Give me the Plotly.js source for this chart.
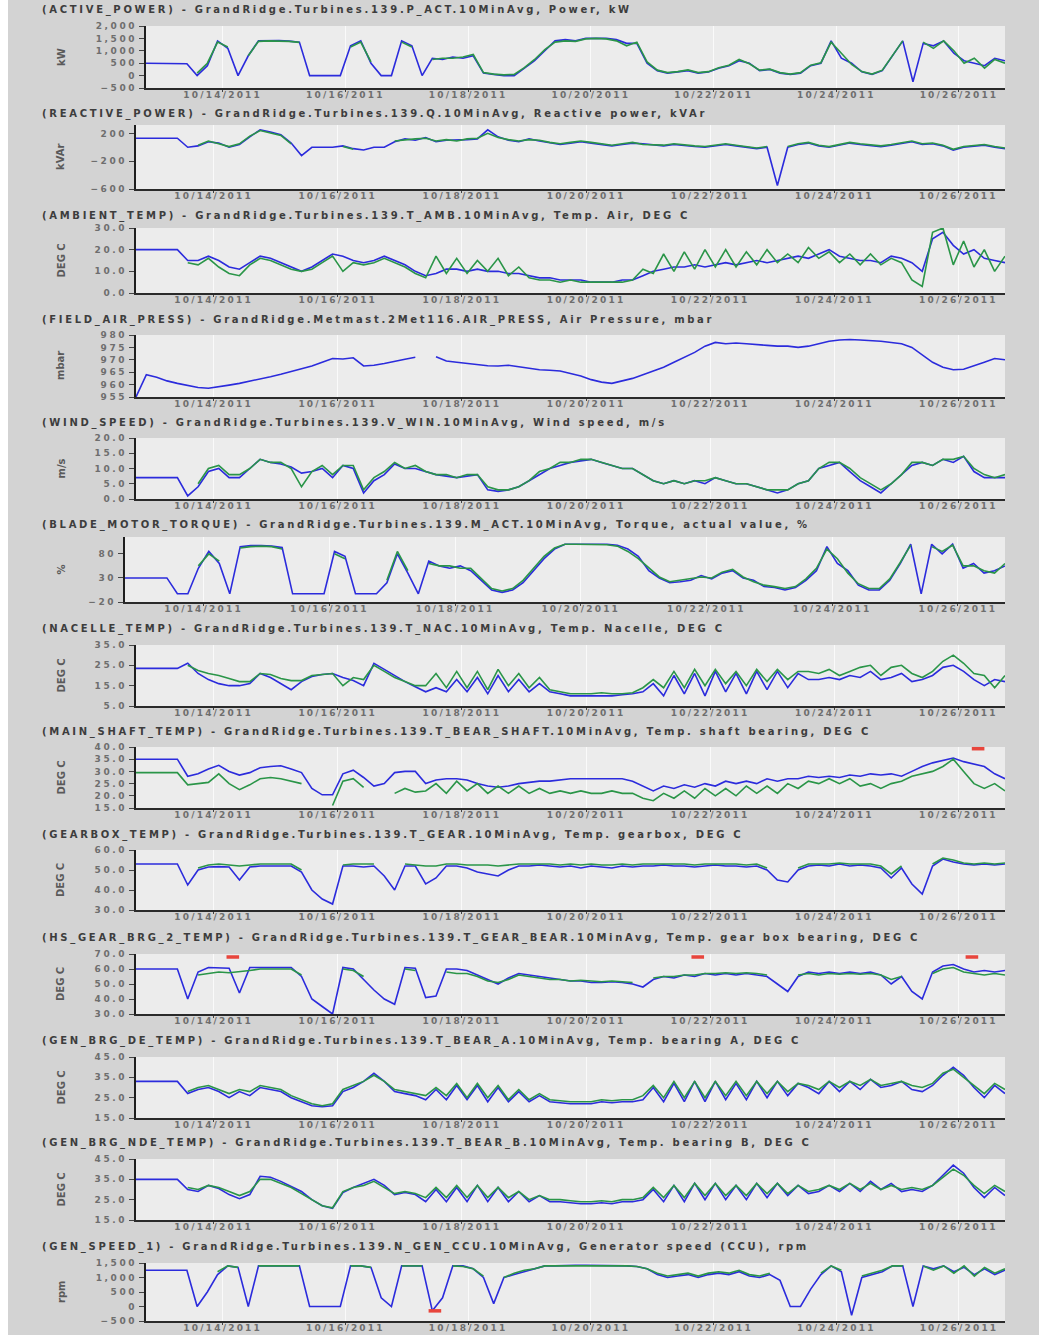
<!DOCTYPE html>
<html><head><meta charset="utf-8">
<script src="https://cdn.plot.ly/plotly-3.0.1.min.js"></script>
<style>
html,body{margin:0;padding:0;background:#fff;}
#chart{width:1039px;height:1335px;}
.xaxislayer-above text{letter-spacing:2.2px;}
.yaxislayer-above text{letter-spacing:2.6px;}
</style>
</head><body><div id="chart"></div>
<script>
const n = null;
// 10-minute averages sampled every 4 hours, first sample 10/12/2011 18:00
const t0 = Date.UTC(2011, 9, 12, 18, 0);
const times = Array.from({length: 85}, (_, k) => new Date(t0 + k * 4 * 3600 * 1000).toISOString().slice(0, 16).replace('T', ' '));

const titles = [
  '(ACTIVE_POWER) - GrandRidge.Turbines.139.P_ACT.10MinAvg, Power, kW',
  '(REACTIVE_POWER) - GrandRidge.Turbines.139.Q.10MinAvg, Reactive power, kVAr',
  '(AMBIENT_TEMP) - GrandRidge.Turbines.139.T_AMB.10MinAvg, Temp. Air, DEG C',
  '(FIELD_AIR_PRESS) - GrandRidge.Metmast.2Met116.AIR_PRESS, Air Pressure, mbar',
  '(WIND_SPEED) - GrandRidge.Turbines.139.V_WIN.10MinAvg, Wind speed, m/s',
  '(BLADE_MOTOR_TORQUE) - GrandRidge.Turbines.139.M_ACT.10MinAvg, Torque, actual value, %',
  '(NACELLE_TEMP) - GrandRidge.Turbines.139.T_NAC.10MinAvg, Temp. Nacelle, DEG C',
  '(MAIN_SHAFT_TEMP) - GrandRidge.Turbines.139.T_BEAR_SHAFT.10MinAvg, Temp. shaft bearing, DEG C',
  '(GEARBOX_TEMP) - GrandRidge.Turbines.139.T_GEAR.10MinAvg, Temp. gearbox, DEG C',
  '(HS_GEAR_BRG_2_TEMP) - GrandRidge.Turbines.139.T_GEAR_BEAR.10MinAvg, Temp. gear box bearing, DEG C',
  '(GEN_BRG_DE_TEMP) - GrandRidge.Turbines.139.T_BEAR_A.10MinAvg, Temp. bearing A, DEG C',
  '(GEN_BRG_NDE_TEMP) - GrandRidge.Turbines.139.T_BEAR_B.10MinAvg, Temp. bearing B, DEG C',
  '(GEN_SPEED_1) - GrandRidge.Turbines.139.N_GEN_CCU.10MinAvg, Generator speed (CCU), rpm'
];
const units = ['kW','kVAr','DEG C','mbar','m/s','%','DEG C','DEG C','DEG C','DEG C','DEG C','DEG C','rpm'];

const activePowerBlue = [500,500,500,500,480,0,400,1400,1100,0,800,1400,1420,1410,1390,1350,0,0,0,0,1200,1400,500,0,0,1400,1200,0,700,650,750,700,800,100,50,0,0,300,600,1000,1400,1450,1400,1500,1500,1500,1450,1300,1300,500,200,100,150,200,100,150,300,400,600,500,200,250,100,50,100,400,500,1400,700,500,150,50,200,800,1400,-250,1300,1200,1400,900,600,500,400,700,600];
const activePowerGreen = [n,n,n,n,n,100,500,1350,1150,n,800,1380,1400,1400,1380,1340,n,n,n,n,1150,1350,550,n,n,1350,1150,n,650,700,700,750,850,120,60,30,50,320,650,1050,1350,1400,1380,1480,1500,1480,1400,1200,1350,550,220,120,160,230,120,160,320,420,650,480,220,260,120,60,120,420,520,1350,900,450,160,60,220,820,1400,n,1350,1100,1400,1000,500,700,300,650,500];

const reactivePowerBlue = [130,130,130,130,130,0,20,80,60,0,40,150,250,220,180,60,-120,0,0,0,20,-20,-40,0,0,80,120,100,140,80,100,100,110,120,250,150,100,80,120,90,60,40,60,80,60,40,20,40,60,50,30,20,40,20,10,0,20,40,20,0,-20,0,-550,0,40,60,20,0,30,60,40,20,10,30,60,80,40,50,20,-40,0,20,30,0,-20];
const reactivePowerGreen = [n,n,n,n,n,n,30,90,50,10,50,160,240,210,170,50,n,n,n,n,10,-30,n,n,n,90,110,120,130,90,110,90,120,130,200,140,110,90,110,100,70,50,70,90,70,50,30,50,70,40,40,30,50,30,20,10,30,50,30,10,-10,10,n,10,50,70,30,10,40,70,50,30,20,40,70,90,50,60,30,-30,10,30,40,10,-10];

const ambientTempBlue = [20,20,20,20,20,15,15,17,15,12,11,14,17,16,14,12,10,12,15,18,17,15,14,15,17,15,13,10,8,9,11,11,10,11,10,10,9,9,8,7,7,6,6,6,5,5,5,6,6,8,10,11,12,12,13,12,13,14,13,14,15,14,15,16,17,16,18,20,17,16,15,15,14,17,16,14,10,25,28,22,18,20,16,15,14];
const ambientTempGreen = [n,n,n,n,n,14,13,16,12,9,8,13,16,15,13,11,10,11,14,17,10,14,13,14,16,14,12,9,7,17,9,16,9,15,10,16,8,12,7,6,6,5,6,5,5,5,5,5,6,11,9,18,10,19,11,20,12,20,12,19,13,20,14,18,14,21,16,19,14,18,13,18,13,16,14,6,3,28,30,13,24,12,20,10,17];

const airPressure = [955,964,963,961.5,960.5,959.5,958.8,958.5,959,959.8,960.5,961.3,962.2,963.2,964.2,965.2,966.3,967.5,969,970.5,970.3,970.8,967.5,967.8,968.5,969.5,970.2,971,n,971.2,969.5,969,968.5,968,967.6,967.5,967.8,967.2,966.5,966,965.8,965.5,964.5,963.5,962,961,960.5,961.5,962.5,964,965.5,967,969,971,973,975.5,977,976.5,976.8,976.5,976,975.8,975.5,975.5,975,975.5,976.5,977.5,978,978.2,978,977.8,977.5,977,976.5,975,972,969,967,966,966.2,967.5,969,970.5,970];

const windSpeedBlue = [7,7,7,7,7,1,4,9,10,7,7,10,13,12,11.5,10.5,8.5,9,10,7,11,10,2,6,8,11.5,10,10,9,8,7.5,7,7.5,8,3,2.5,3,4,6,8,10,11,12,12.5,13,12,11,10,10,8,6,5,6,5,6,5,7,6,5,5,4,3,2,3,5,6,10,11,12,9,6,4,2,5,8,11,12,11,13,12,14,9,7,7,7];
const windSpeedGreen = [n,n,n,n,n,n,5,10,11,8,8,10,13,12,12,10,4,9,11,8,11,11,3,7,9,12,10,11,9,8,8,7,8,8,4,3,3,4,6,9,10,12,12,13,13,12,11,10,10,8,6,5,6,5,6,6,7,6,5,5,4,3,3,3,5,6,10,12,12,10,7,5,3,5,8,12,12,11,13,13,14,10,8,7,8];

const torqueBlue = [30,30,30,30,30,-3,-3,50,85,60,-3,95,97,97,96,93,-3,-3,-3,-3,85,75,-3,-3,-3,20,80,40,-3,65,55,50,55,45,25,5,0,5,20,45,70,90,100,100,100,100,100,98,90,75,45,30,20,22,25,35,28,40,45,30,25,12,10,5,10,25,45,95,60,45,15,5,5,25,60,100,-3,100,80,100,50,60,40,45,55];
const torqueGreen = [n,n,n,n,n,n,n,55,80,65,n,92,95,96,95,90,n,n,n,n,80,70,n,n,n,25,85,45,n,60,55,55,50,50,30,8,3,8,25,50,75,92,100,100,100,100,99,96,85,70,50,32,22,25,28,32,30,42,48,32,22,15,12,8,12,28,50,90,70,40,18,8,8,28,62,98,n,95,85,98,55,55,45,40,60];

const nacelleTempBlue = [23.5,23.5,23.5,23.5,23.5,26,21,18,16,15,15,16,21,19,16,13,17,19.5,20.5,21,19,17.5,15,26,23,20,17,14.5,12,14,12,18,12,19,11,20,12,18,12,16,12,11,10,10,10,10,10,10.5,11,12,16,10,20,11,21,10,22,12,21,11,22,13,22,14,21,18,18,19,18,20,19,22,18,19,21,17,18,20,24,25,22,18,15,18,17];
const nacelleTempGreen = [n,n,n,n,n,25,22.5,21,20,18.5,17,17,21,20.5,18.5,17.5,17.5,20,20.5,21,15,19,18,25,22,19,17,15,15,21,14,22,14,22,13,23,15,21,14,19,13,12,11,11,11,11.5,11,11,11.5,14,18,14,22,14,23,15,23,16,22,15,23,17,23,18,22,22,21,23,20,22,24,25,20,24,25,21,19,22,27,30,26,21,20,14,20];

const mainShaftTempBlue = [35,35,35,35,35,28,29,31,32.5,30,28.5,29.5,31.5,32,32.3,31,29.5,23,20.4,20.4,29,30.5,27.5,24,25,29.5,30,30,25,26.5,27,27,26.5,25,24,23.5,24,25,25.5,26,26,26.5,27,27,27,27,27,27,26,24,22,24,23,24.5,23.5,25,24,26,25,26,25,27,26,27,27,28,27.5,28,27.5,28.5,28,29,28.5,29,28,30,32,33.5,34.5,35.5,34,33,32,29,27];
const mainShaftTempGreen = [29.5,29.5,29.5,29.5,29.5,24.5,25,25.5,29,25,22.5,24.5,27,27.5,27,26,25,n,n,16,26,27,23.5,n,n,21,23,21.5,22,25,21,26,22,25,21,24,21,24,21,23,21,22,21,22,21,21,22,21,21,19,18,21,19,22,19,23,20,23,20,24,21,24,21,25,23,26,25,27,25,27,24,25,23,25,26,28,29,30,32,35,30,25,23,25,22];

const gearboxTempBlue = [53,53,53,53,53,42.5,50,51.5,51.7,51.5,45,51.5,52,52,52,52,49,40,35.5,33,52,52,51.5,52,47,40,52,52,43,46,52,52,51,49,48,47,50,52,52,52.5,52,51.5,52,51,52,51.5,51,52,51.5,52,52,52.5,52,52,51.5,52,52.5,52,52,51.5,52,50,45,44,50,52,52.5,52,53,52,52.5,52,51,46,51,43,38,52,55.5,54,53,52.5,53,52.5,53];
const gearboxTempGreen = [n,n,n,n,n,n,51,52.5,53,52.5,52,52.5,53,53,53,53,50,n,n,n,52.5,53,53,53,n,n,53,52.5,52,52,53,53,52.5,52.5,52.5,52,52.5,53,53,53,53,52.5,53,52.5,53,52.5,52.5,53,52.5,53,53,53,53,53,52.5,53,53,53,53,52.5,53,51,n,n,51,53,53,53,53.5,53,53,53,52,48,52,n,n,53,56,55,53.5,53,53.5,53,53.5];

const hsGearBrgTempBlue = [60,60,60,60,60,40,58,61,61,60.5,44,61,61,61,61,61,55,40,35,30,61,60,53,46,40,36.5,61,60.5,41,42,60,60,59,56,52.5,50,54,57,56,55,54,53,52,52,51,51,51.5,51,50,48,53,55,54,56,55,57,56,57,56,57,56,55,50,45,55,58,57,58,57,58,57,58,56,50,55,45,40,58,62,63,60,58,59,58,59];
const hsGearBrgTempGreen = [n,n,n,n,n,n,56,57,58,57.5,58,59,60,60,60,60,56,n,n,n,60,59,55,n,n,n,60,59,n,n,58,57,57,55,52,51,53,56,55,54,53,53,52,52.5,52,51.5,52,51.5,51,n,54,55,55,56,56,57,57,57.5,57,57.5,57,56,n,n,56,57,56,57,56.5,57,56.5,57,56,53,55,n,n,57,60,61,58,57,56,57,56];

const genBrgDeTempBlue = [33,33,33,33,33,27,29,30,28,25,28,26,30,29,28,25,23,21,20.5,21,28,30,33,37,33,28,27,26,24,29,24,31,24,31,23,30,23,28,23,26,23,22.5,22,22,22,23,22.5,23,23,24,30,23,32,23,33,23,33,24,32,24,33,25,33,26,32,30,27,33,28,33,29,34,30,31,33,29,28,31,36,40,36,30,25,31,27];
const genBrgDeTempGreen = [n,n,n,n,n,28,30,31,29,27,29,28,31,30,29,26,24,22,21,22,29,31,33,36,33,29,28,27,26,30,26,32,25,32,25,31,24,29,24,27,24,23.5,23,23,23,24,23.5,24,24,26,31,25,33,25,33,25,33,26,33,26,33,27,33,28,32,31,29,33,30,33,31,34,31,32,33,31,30,32,37,39,35,31,27,32,29];

const genBrgNdeTempBlue = [35,35,35,35,35,30,29,32,30.5,27.5,25.5,27.5,36.5,36,34,31.5,29,25,22,20.7,28.5,31,33,35,32,27.5,28.5,27.5,24,30,24,31,24,32,24,31,24,29,24,27,24,24,23.5,23,23,23.5,23,24,24,25,30,24,32,24,33,25,33,25,32,25,33,26,33,27,32,28,29,32,29,33,29,34,30,33,29,30,29,32,37,42,38,31,26,31,27];
const genBrgNdeTempGreen = [n,n,n,n,n,31,30,32,31,29,27,29,35,35,33,31,28,25,22,21,29,31,32,34,31,28,29,28,26,31,26,32,26,32,26,31,26,29,25,27,25,25,24.5,24,24,24.5,24,25,25,26,31,26,32,26,33,27,33,27,32,27,33,28,33,28,32,29,30,32,30,33,30,33,30,32,30,31,30,32,36,40,37,32,28,32,29];

const genSpeedBlue = [1250,1250,1250,1250,1250,0,500,1100,1400,1350,0,1400,1400,1400,1400,1400,0,0,0,0,1400,1400,1350,300,0,1400,1400,1400,-150,300,1400,1400,1300,1000,100,1000,1100,1200,1300,1400,1400,1420,1420,1420,1420,1420,1400,1400,1380,1300,1100,1000,1050,1100,1000,1100,1150,1100,1200,1050,1000,1100,900,0,0,600,1100,1400,1200,-300,1000,1100,1200,1400,1400,0,1400,1300,1400,1200,1350,1100,1300,1100,1250];
const genSpeedGreen = [n,n,n,n,n,n,n,1200,1400,1350,n,1400,1400,1400,1400,1400,n,n,n,n,1400,1400,1350,n,n,1400,1400,1400,n,n,1400,1380,1300,1050,n,1000,1150,1250,1300,1400,1400,1420,1420,1420,1420,1420,1400,1400,1380,1300,1150,1050,1100,1150,1050,1150,1200,1150,1250,1100,1050,1150,n,n,n,n,1150,1400,1250,n,1050,1150,1250,1400,1400,n,1400,1250,1400,1150,1400,1050,1350,1150,1300];

// alarm markers (red): panel index, time, value
const alarmPanel = [7, 9, 9, 9, 12];
const alarmTime = ['2011-10-26 07:36', '2011-10-14 07:26', '2011-10-21 19:12', '2011-10-26 05:12', '2011-10-17 11:00'];
const alarmValue = [39.3, 68, 68, 68, -150];

const blueSeries = [activePowerBlue, reactivePowerBlue, ambientTempBlue, airPressure, windSpeedBlue, torqueBlue, nacelleTempBlue, mainShaftTempBlue, gearboxTempBlue, hsGearBrgTempBlue, genBrgDeTempBlue, genBrgNdeTempBlue, genSpeedBlue];
const greenSeries = [activePowerGreen, reactivePowerGreen, ambientTempGreen, null, windSpeedGreen, torqueGreen, nacelleTempGreen, mainShaftTempGreen, gearboxTempGreen, hsGearBrgTempGreen, genBrgDeTempGreen, genBrgNdeTempGreen, genSpeedGreen];

// axis / placement configuration
const axisCfg = [
  {range:[-500,2000], tick0:-500, dtick:500, fmt:',d', left:146, top:26, bottom:88, tY:10},
  {range:[-600,320], tick0:-600, dtick:400, fmt:'d', left:136, top:125, bottom:189, tY:114},
  {range:[0,30], tick0:0, dtick:10, fmt:'.1f', left:136, top:228, bottom:293, tY:216},
  {range:[955,980], tick0:955, dtick:5, fmt:'d', left:136, top:335, bottom:397, tY:320},
  {range:[0,20], tick0:0, dtick:5, fmt:'.1f', left:136, top:438, bottom:499, tY:423},
  {range:[-20,115], tick0:-20, dtick:50, fmt:'d', left:125, top:537, bottom:602, tY:525},
  {range:[5,35], tick0:5, dtick:10, fmt:'.1f', left:136, top:645, bottom:706, tY:629},
  {range:[15,40], tick0:15, dtick:5, fmt:'.1f', left:136, top:747, bottom:808, tY:732},
  {range:[30,60], tick0:30, dtick:10, fmt:'.1f', left:136, top:850, bottom:910, tY:835},
  {range:[30,70], tick0:30, dtick:10, fmt:'.1f', left:136, top:954, bottom:1014, tY:938},
  {range:[15,45], tick0:15, dtick:10, fmt:'.1f', left:136, top:1057, bottom:1118, tY:1041},
  {range:[15,45], tick0:15, dtick:10, fmt:'.1f', left:136, top:1159, bottom:1220, tY:1143},
  {range:[-500,1500], tick0:-500, dtick:500, fmt:',d', left:146, top:1263, bottom:1321, tY:1247}
];

const W = 1039, H = 1335, RIGHT = 1005;
const BLUE = '#2b2bdc', GREEN = '#2a9548';
const tickFont = {family:'DejaVu Sans', size:9, color:'#6e6e6e', weight:'bold'};
const xRange = ['2011-10-12 18:00', '2011-10-26 18:00'];

const traces = [];
const titleAnns = [], unitAnns = [];
const layout = {
  width: W, height: H,
  margin: {l:0, r:0, t:0, b:0},
  paper_bgcolor: '#d3d3d3',
  plot_bgcolor: '#ececec',
  showlegend: false,
  shapes: [{type:'rect', xref:'paper', yref:'paper', x0:0, x1:8/W, y0:0, y1:1, fillcolor:'#ffffff', line:{width:0}, layer:'below'}]
};

axisCfg.forEach((c, k) => {
  const s = k === 0 ? '' : String(k + 1);
  layout['xaxis' + s] = {
    domain: [c.left / W, RIGHT / W], anchor: 'y' + s, type: 'date', range: xRange,
    tick0: '2011-10-14', dtick: 2 * 86400000, tickformat: '%m/%d/%Y',
    showline: true, linecolor: '#2a2a2a', linewidth: 2, ticks: 'outside', ticklen: 2, tickcolor: '#444',
    ticklabelstandoff: -5,
    showgrid: true, gridcolor: 'rgba(255,255,255,0.75)', gridwidth: 1, zeroline: false,
    tickfont: tickFont, fixedrange: true
  };
  layout['yaxis' + s] = {
    domain: [1 - c.bottom / H, 1 - c.top / H], anchor: 'x' + s, range: c.range,
    tick0: c.tick0, dtick: c.dtick, tickformat: c.fmt,
    showline: true, linecolor: '#1e1e1e', linewidth: 2, ticks: 'outside', ticklen: 5, tickcolor: '#444',
    showgrid: false, zeroline: false, tickfont: tickFont, fixedrange: true
  };
  traces.push({x: times, y: blueSeries[k], xaxis: 'x' + s, yaxis: 'y' + s, type: 'scatter', mode: 'lines',
    line: {color: BLUE, width: 1.6}, connectgaps: false, hoverinfo: 'skip'});
  if (greenSeries[k]) {
    traces.push({x: times, y: greenSeries[k], xaxis: 'x' + s, yaxis: 'y' + s, type: 'scatter', mode: 'lines',
      line: {color: GREEN, width: 1.6}, connectgaps: false, hoverinfo: 'skip'});
  }
  titleAnns.push({xref:'paper', yref:'paper', x: 40 / W, y: 1 - c.tY / H, xanchor:'left', yanchor:'middle',
    text: titles[k], showarrow:false, font:{family:'DejaVu Sans', size:10, color:'#3d3d3d', weight:'bold'}});
  unitAnns.push({xref:'paper', yref:'paper', x: 61 / W, y: 1 - (c.top + c.bottom) / 2 / H, xanchor:'center', yanchor:'middle',
    text: units[k], textangle: -90, showarrow:false, font:{family:'DejaVu Sans', size:10, color:'#5a5a5a', weight:'bold'}});
});

// alarm markers
const alarmAxes = {};
alarmPanel.forEach((p, i) => {
  (alarmAxes[p] = alarmAxes[p] || {x: [], y: []});
  alarmAxes[p].x.push(alarmTime[i]);
  alarmAxes[p].y.push(alarmValue[i]);
});
Object.keys(alarmAxes).forEach(p => {
  const s = +p === 0 ? '' : String(+p + 1);
  traces.push({x: alarmAxes[p].x, y: alarmAxes[p].y, xaxis: 'x' + s, yaxis: 'y' + s, type: 'scatter', mode: 'markers',
    marker: {symbol: 'line-ew', size: 9, line: {width: 3.5, color: '#e8453c'}}, cliponaxis: false, hoverinfo: 'skip'});
});

layout.annotations = titleAnns.concat(unitAnns);

Plotly.newPlot('chart', traces, layout, {staticPlot: true}).then(gd => {
  gd.querySelectorAll('g.annotation').forEach(g => {
    const idx = +g.getAttribute('data-index');
    if (idx < titles.length) {
      const t = g.querySelector('text');
      if (!t) return;
      const b0 = t.getBBox();
      t.style.letterSpacing = '2.7px';
      t.setAttribute('text-anchor', 'start');
      t.setAttribute('x', b0.x);
      t.querySelectorAll('tspan').forEach(ts => { if (ts.hasAttribute('x')) ts.setAttribute('x', b0.x); });
    }
  });
});
</script>
</body></html>
